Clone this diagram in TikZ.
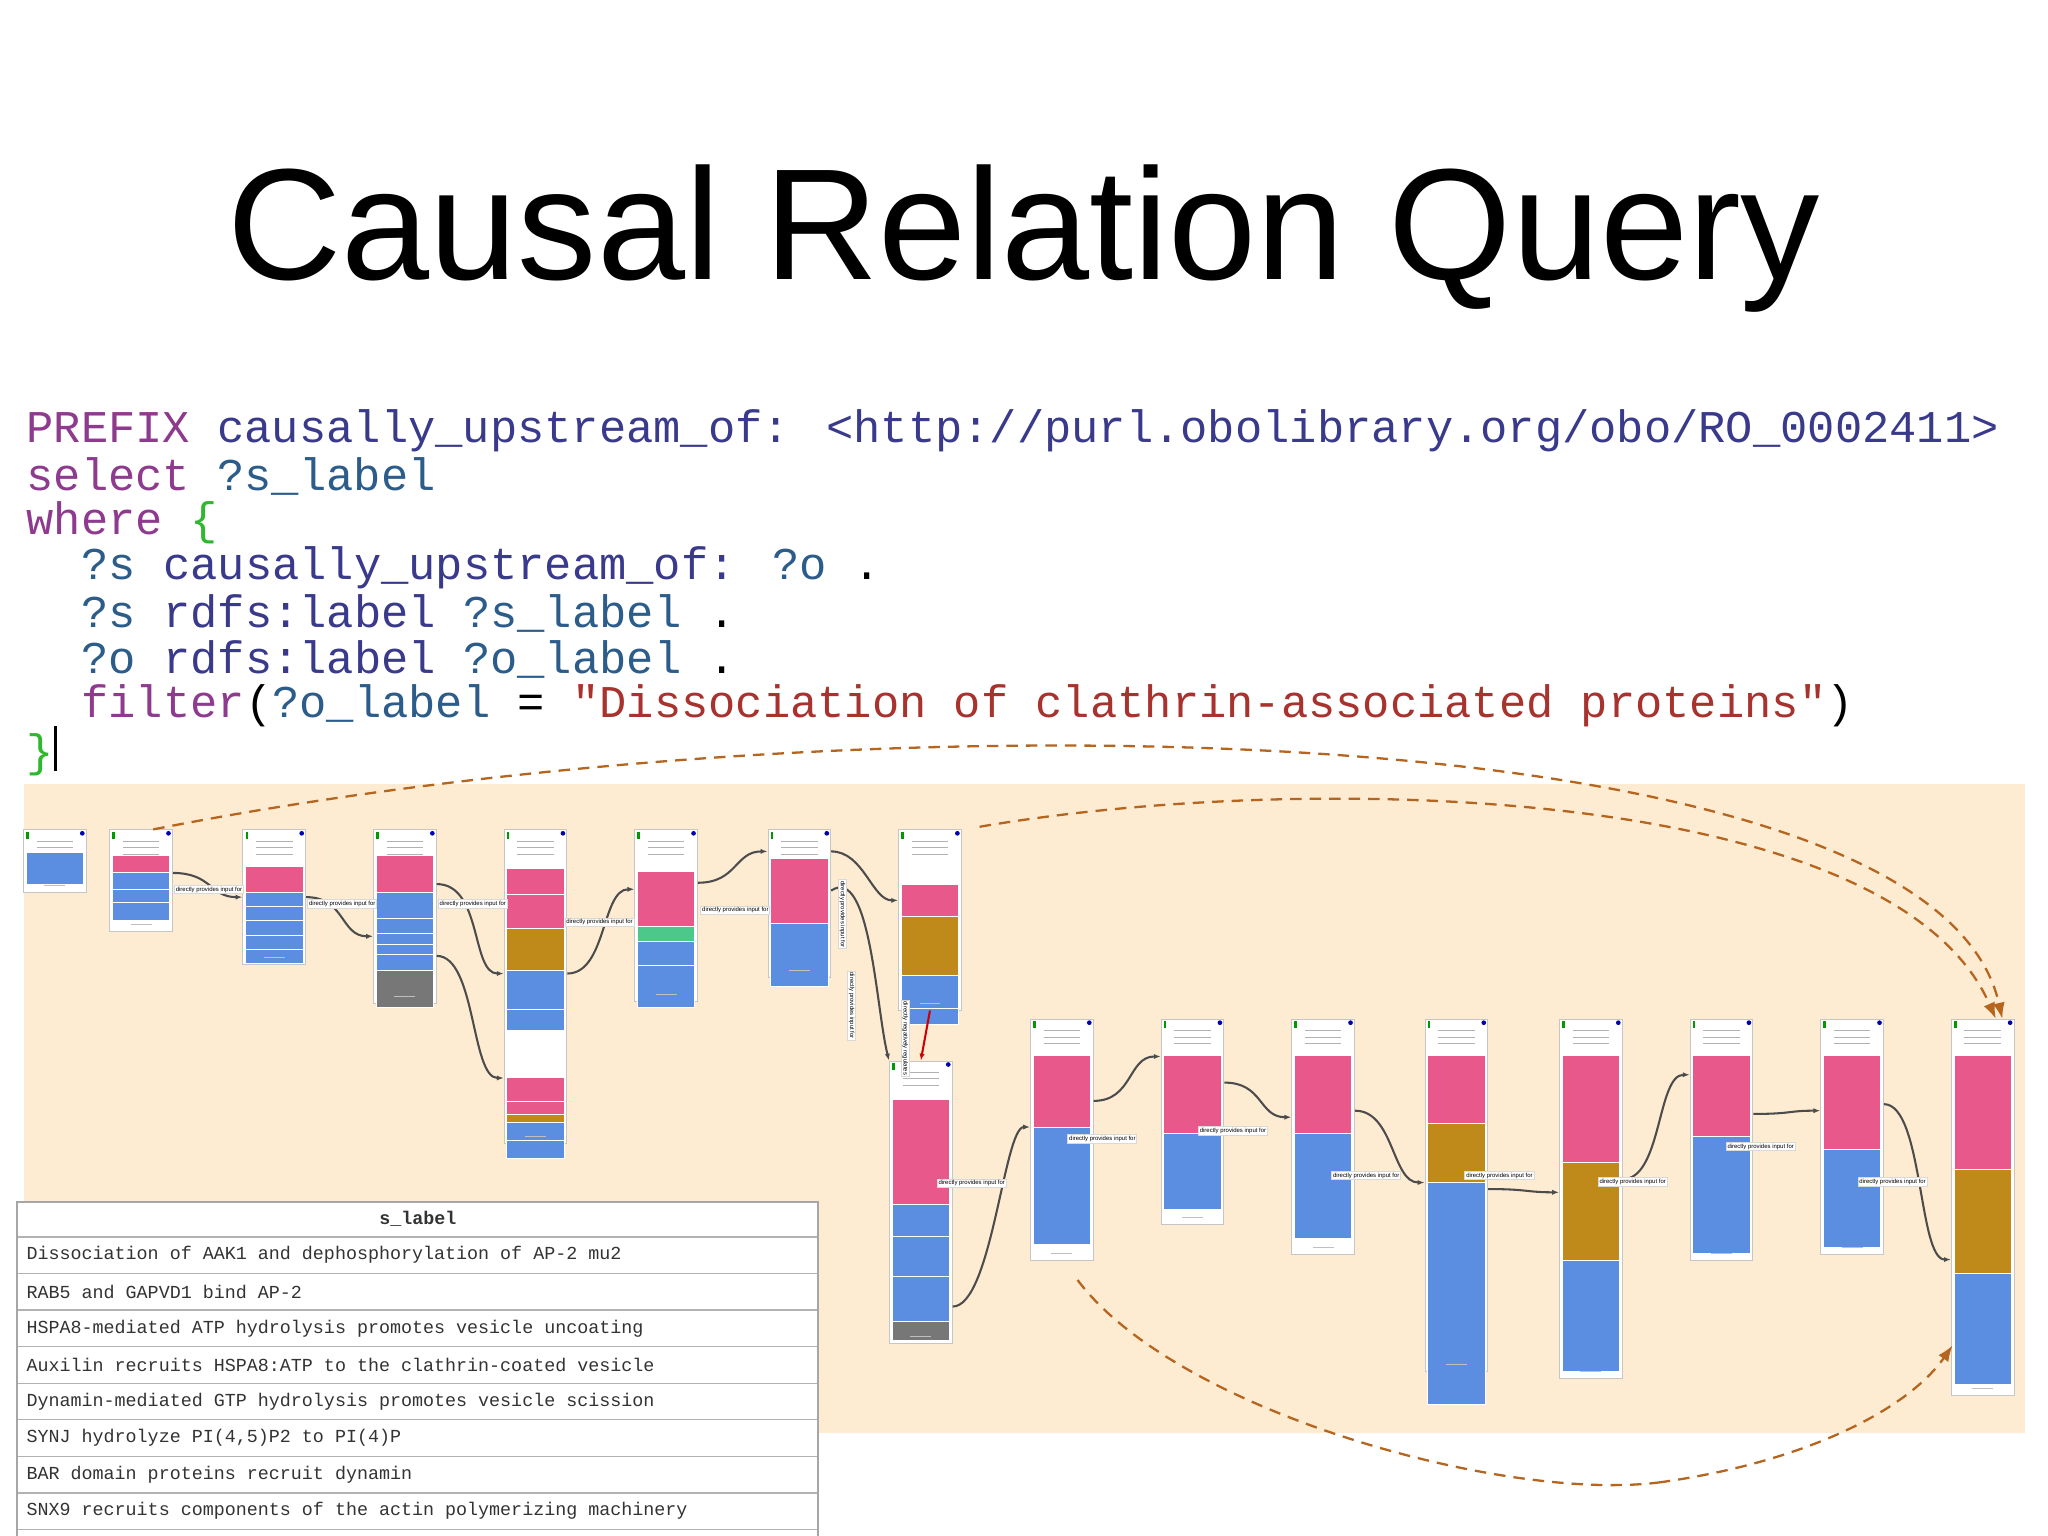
\documentclass[tikz,border=0pt]{standalone}
\usepackage{fontspec}
\setmainfont{Liberation Sans}
\newfontfamily\codefont{Liberation Mono}
\usetikzlibrary{arrows.meta}
\definecolor{bgpeach}{HTML}{FDEBD2}
\definecolor{kw}{HTML}{8E3A8E}
\definecolor{idc}{HTML}{3A3A8C}
\definecolor{vr}{HTML}{2B5C8A}
\definecolor{grn}{HTML}{2EB82E}
\definecolor{strc}{HTML}{A8322D}
\definecolor{pk}{HTML}{E8588A}
\definecolor{bl}{HTML}{5B8EE0}
\definecolor{gd}{HTML}{C08A1A}
\definecolor{gn}{HTML}{4CC88A}
\definecolor{gy}{HTML}{777777}
\definecolor{brn}{HTML}{B5651D}
\definecolor{wt}{HTML}{FFFFFF}
\tikzset{
 cardbox/.style={draw=gray!45,fill=white,minimum width=0.96cm,inner sep=0,anchor=north,line width=0.4pt},
 codeline/.style={anchor=west,inner sep=0,font=\codefont\fontsize{19.8}{22}\selectfont},
 link/.style={draw=black!70,line width=0.9pt,-{Latex[length=3pt]}},
 upq/.style={draw=brn,line width=1pt,dash pattern=on 5pt off 3.5pt,-{Latex[length=7pt]}},
 lbl/.style={fill=white,draw=gray!30,inner sep=0.6pt,font=\fontsize{2.6}{3}\selectfont},
 rowtxt/.style={anchor=west,inner sep=0,font=\codefont\fontsize{8}{9}\selectfont,text=black!80},
}
% #1 name, #2 x, #3 top, #4 bottom, #5 header height, #6 segments color/height
\newcommand\mycard[6]{%
 \node[cardbox,minimum height={(#4-#3)*0.02cm}] (#1) at (#2,#3) {};
 \foreach \k in {1,...,3}{\draw[gray!60,line width=0.5pt] (#2-14,#3+4+\k*5) -- (#2+14,#3+4+\k*5);}
 \fill[green!60!black] (#2-22,#3+2) rectangle (#2-20,#3+7);
 \fill[blue!70!black] (#2+21,#3+3) circle (1.8);
 \pgfmathsetmacro\cy{#3+#5}\xdef\cy{\cy}%
 \foreach \c/\h in {#6}{%
  \pgfmathsetmacro\ny{\cy+\h}%
  \fill[\c,draw=white,line width=0.4pt] (#2-22,\cy) rectangle (#2+22,\ny);
  \xdef\cy{\ny}}%
 \draw[gray!50,line width=0.4pt] (#2-8,#4-5) -- (#2+8,#4-5);
}
\begin{document}
\begin{tikzpicture}[x=0.02cm,y=-0.02cm]
\useasboundingbox (0,0) rectangle (1568,1176);
\clip (0,0) rectangle (1568,1176);
\fill[white] (0,0) rectangle (1568,1176);
% title
\node[font=\fontsize{69}{80}\selectfont] (title) at (784,183) {Causal Relation Query};
% code
\node[codeline] (c1) at (20,330) {\textcolor{kw}{PREFIX} \textcolor{idc}{causally\_upstream\_of: <http://purl.obolibrary.org/obo/RO\_0002411>}};
\node[codeline] (c2) at (20,365) {\textcolor{kw}{select} \textcolor{vr}{?s\_label}};
\node[codeline] (c3) at (20,400) {\textcolor{kw}{where} \textcolor{grn}{\{}};
\node[codeline] (c4) at (62,435) {\textcolor{vr}{?s} \textcolor{idc}{causally\_upstream\_of:} \textcolor{vr}{?o} .};
\node[codeline] (c5) at (62,470) {\textcolor{vr}{?s} \textcolor{idc}{rdfs:label} \textcolor{vr}{?s\_label} .};
\node[codeline] (c6) at (62,505) {\textcolor{vr}{?o} \textcolor{idc}{rdfs:label} \textcolor{vr}{?o\_label} .};
\node[codeline] (c7) at (62,540) {\textcolor{kw}{filter}(\textcolor{vr}{?o\_label} = \textcolor{strc}{"Dissociation of clathrin-associated proteins"})};
\node[codeline] (c8) at (20,575) {\textcolor{grn}{\}}\rule[-0.1em]{0.08em}{1em}};
% background
\fill[bgpeach] (18,600) rectangle (1550,1097);
% cards top row
\mycard{n1}{42}{635}{683}{18}{bl/24}
\mycard{n2}{108}{635}{713}{20}{pk/13,bl/13,bl/10,bl/14}
\mycard{n3}{210}{635}{738}{28}{pk/20,bl/11,bl/11,bl/11,bl/11,bl/11}
\mycard{n4}{310}{635}{768}{20}{pk/28,bl/20,bl/12,bl/8,bl/8,bl/12,gy/28}
\mycard{n5}{410}{635}{875}{30}{pk/20,pk/26,gd/32,bl/30,bl/16,wt/36,pk/18,pk/10,gd/6,bl/14,bl/14}
\mycard{n6}{510}{635}{766}{32}{pk/42,gn/12,bl/18,bl/32}
\mycard{n7}{612}{635}{748}{22}{pk/50,bl/48}
\mycard{n8}{712}{635}{773}{42}{pk/25,gd/45,bl/25,bl/12}
\mycard{n9}{705}{812}{1028}{30}{pk/80,bl/25,bl/30,bl/35,gy/14}
% bottom row
\mycard{n10}{813}{780}{965}{28}{pk/55,bl/90}
\mycard{n11}{913}{780}{937}{28}{pk/60,bl/58}
\mycard{n12}{1013}{780}{960}{28}{pk/60,bl/80}
\mycard{n13}{1115}{780}{1050}{28}{pk/52,gd/45,bl/170}
\mycard{n14}{1218}{780}{1055}{28}{pk/82,gd/75,bl/85}
\mycard{n15}{1318}{780}{965}{28}{pk/62,bl/90}
\mycard{n16}{1418}{780}{960}{28}{pk/72,bl/75}
\mycard{n17}{1518}{780}{1068}{28}{pk/87,gd/80,bl/85}
% connectors
\draw[link] (n2.east) ++(0,-6) .. controls +(30,0) and +(-25,0) .. (n3.west);
\draw[link] (n3.east) ++(0,0) .. controls +(30,0) and +(-25,0) .. ([yshift=-0.3cm]n4.west);
\draw[link] ([yshift=0.5cm]n4.east) .. controls +(35,0) and +(-25,0) .. ([yshift=0.2cm]n5.west);
\draw[link] ([yshift=-0.6cm]n4.east) .. controls +(30,0) and +(-25,0) .. ([yshift=-1.4cm]n5.west);
\draw[link] ([yshift=0.2cm]n5.east) .. controls +(30,0) and +(-25,0) .. ([yshift=0.4cm]n6.west);
\draw[link] ([yshift=0.5cm]n6.east) .. controls +(30,0) and +(-25,0) .. ([yshift=0.8cm]n7.west);
\draw[link] ([yshift=0.8cm]n7.east) .. controls +(25,0) and +(-20,0) .. ([yshift=0.3cm]n8.west);
\draw[link] ([yshift=0.2cm]n7.east) .. controls +(30,-20) and +(-10,-40) .. (n9.north west);
\draw[red!80!black,line width=0.9pt,-{Latex[length=3pt]}] (n8.south) -- (n9.north);
\draw[link] ([yshift=-1.6cm]n9.east) .. controls +(30,0) and +(-20,0) .. ([yshift=0.2cm]n10.west);
\draw[link] ([yshift=0.6cm]n10.east) .. controls +(30,0) and +(-25,0) .. ([yshift=1.0cm]n11.west);
\draw[link] ([yshift=0.6cm]n11.east) .. controls +(30,0) and +(-25,0) .. ([yshift=0.3cm]n12.west);
\draw[link] ([yshift=0.4cm]n12.east) .. controls +(30,0) and +(-25,0) .. ([yshift=0.2cm]n13.west);
\draw[link] ([yshift=0.1cm]n13.east) .. controls +(30,0) and +(-25,0) .. ([yshift=0.1cm]n14.west);
\draw[link] ([yshift=0.3cm]n14.east) .. controls +(30,0) and +(-25,0) .. ([yshift=1.0cm]n15.west);
\draw[link] ([yshift=0.4cm]n15.east) .. controls +(30,0) and +(-25,0) .. ([yshift=0.4cm]n16.west);
\draw[link] ([yshift=0.5cm]n16.east) .. controls +(30,0) and +(-25,0) .. ([yshift=-0.8cm]n17.west);
% link labels
\foreach \p in {(160,681),(262,692),(362,692),(459,706),(563,697),(744,906),(844,872),(944,866),(1046,900),(1148,900),(1250,905),(1348,878),(1449,905)}
  \node[lbl] at \p {directly provides input for};
\node[lbl,rotate=-90] at (645,700) {directly provides input for};
\node[lbl,rotate=-90] at (652,770) {directly provides input for};
\node[lbl,rotate=-90] at (693,795) {directly negatively regulates};
% dashed causal arcs
\draw[upq] ([xshift=-0.3cm]n2.north east) .. controls (650,530) and (1480,540) .. ([xshift=0.3cm]n17.north);
\draw[upq] (750,633) .. controls (1000,590) and (1450,600) .. ([xshift=0.2cm]n17.north);
\coordinate (mid) at (1270,1135);
\draw[brn,line width=1pt,dash pattern=on 5pt off 3.5pt] (825,980) .. controls (900,1080) and (1150,1150) .. (mid);
\draw[upq] (mid) .. controls (1380,1120) and (1460,1080) .. (1495,1030);
% table
\fill[white] (13,920) rectangle (626,1190);
\foreach \y in {947,975,1003,1031,1059,1087,1115,1143,1171}{\draw[gray!60,line width=0.6pt] (13,\y) -- (626,\y);}
\draw[gray!70,line width=0.8pt] (13,1190) -- (13,920) -- (626,920) -- (626,1190);
\node[rowtxt,anchor=center,font=\codefont\bfseries\fontsize{8}{9}\selectfont] (th) at (320,933) {s\_label};
\node[rowtxt] (r1) at (20,961) {Dissociation of AAK1 and dephosphorylation of AP-2 mu2};
\node[rowtxt] (r2) at (20,989) {RAB5 and GAPVD1 bind AP-2};
\node[rowtxt] (r3) at (20,1017) {HSPA8-mediated ATP hydrolysis promotes vesicle uncoating};
\node[rowtxt] (r4) at (20,1045) {Auxilin recruits HSPA8:ATP to the clathrin-coated vesicle};
\node[rowtxt] (r5) at (20,1073) {Dynamin-mediated GTP hydrolysis promotes vesicle scission};
\node[rowtxt] (r6) at (20,1101) {SYNJ hydrolyze PI(4,5)P2 to PI(4)P};
\node[rowtxt] (r7) at (20,1129) {BAR domain proteins recruit dynamin};
\node[rowtxt] (r8) at (20,1157) {SNX9 recruits components of the actin polymerizing machinery};
\end{tikzpicture}
\end{document}
